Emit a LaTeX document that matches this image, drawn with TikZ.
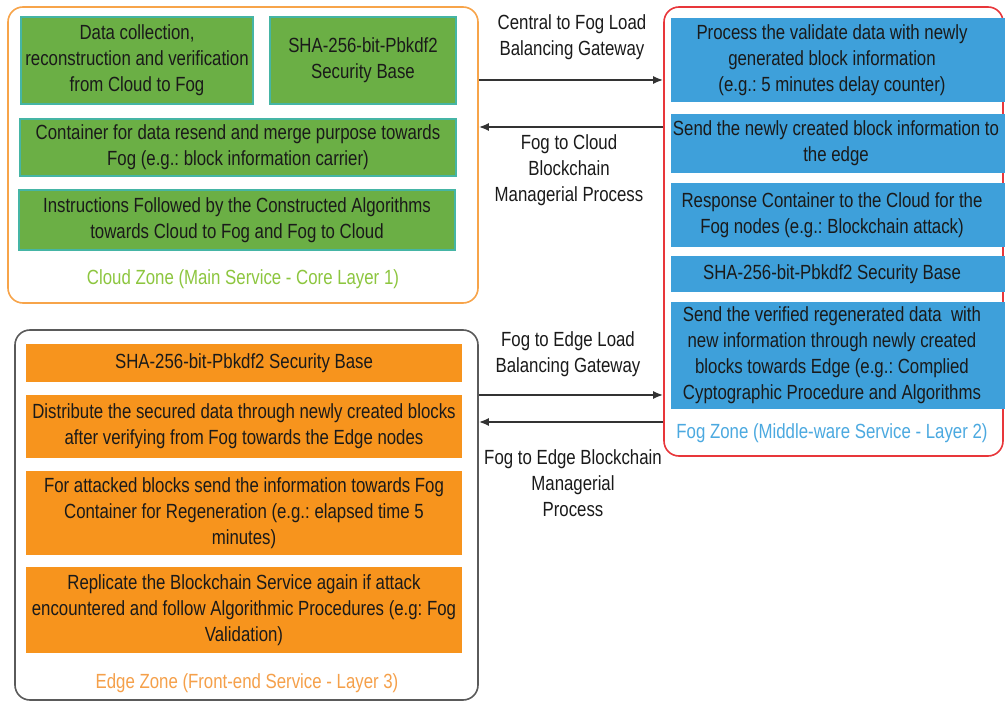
\documentclass[tikz,border=0pt]{standalone}
\usepackage{fontspec}
\setmainfont{Liberation Sans}[FakeStretch=0.82]
\usetikzlibrary{arrows.meta}
\frenchspacing
\definecolor{gfill}{HTML}{6BAF45}
\definecolor{gline}{HTML}{45B5A5}
\definecolor{bfill}{HTML}{3EA0DA}
\definecolor{ofill}{HTML}{F7941D}
\definecolor{cloudline}{HTML}{F7A44A}
\definecolor{fogline}{HTML}{E8363A}
\definecolor{edgeline}{HTML}{5A5A5A}
\definecolor{cloudtxt}{HTML}{8DC63F}
\definecolor{fogtxt}{HTML}{4BA9E0}
\definecolor{edgetxt}{HTML}{F5A04A}
\definecolor{txt}{HTML}{1A1A1A}
\definecolor{arrcol}{HTML}{333333}
\tikzset{
  every node/.style={font=\fontsize{20.5}{26}\selectfont, text=txt, align=center, inner sep=0pt},
  zone/.style={rounded corners=15pt, line width=1.6pt, fill=white},
  gbox/.style={fill=gfill, draw=gline, line width=1.2pt},
  bbox/.style={fill=bfill, draw=none},
  obox/.style={fill=ofill, draw=none},
  zlabel/.style={font=\fontsize{20.5}{26}\selectfont},
  arr/.style={draw=arrcol, line width=1.8pt, -{Latex[length=10pt,width=8pt]}},
  lbl/.style={font=\fontsize{20.5}{26}\selectfont}
}
\begin{document}
\begin{tikzpicture}[x=1pt,y=-1pt]
\useasboundingbox (0,0) rectangle (1005,703);
% zones
\node[zone, draw=cloudline, minimum width=470pt, minimum height=296pt] (cloud) at (243,155) {};
\node[zone, draw=fogline, minimum width=339pt, minimum height=449pt] (fog) at (833.5,231.5) {};
\node[zone, draw=edgeline, minimum width=463pt, minimum height=370pt] (edge) at (246.5,515) {};
% cloud boxes
\node[gbox, minimum width=232pt, minimum height=87pt] (g1) at (137,60.5) {Data collection,\\reconstruction and verification\\from Cloud to Fog};
\node[gbox, minimum width=186pt, minimum height=87pt] (g2) at (363,60.5) {SHA-256-bit-Pbkdf2\\Security Base};
\node[gbox, minimum width=436pt, minimum height=57pt] (g3) at (238,147.5) {Container for data resend and merge purpose towards\\Fog (e.g.: block information carrier)};
\node[gbox, minimum width=436pt, minimum height=60pt] (g4) at (237,220) {Instructions Followed by the Constructed Algorithms\\towards Cloud to Fog and Fog to Cloud};
\node[zlabel, text=cloudtxt] (cl) at (243,279) {Cloud Zone (Main Service - Core Layer 1)};
% fog boxes
\node[bbox, minimum width=334pt, minimum height=84pt] (b1) at (838,60) {};
\node (b1t) at (832,60) {Process the validate data with newly\\generated block information\\(e.g.: 5 minutes delay counter)};
\node[bbox, minimum width=334pt, minimum height=59pt] (b2) at (838,143.5) {};
\node (b2t) at (836,143.5) {Send the newly created block information to\\the edge};
\node[bbox, minimum width=334pt, minimum height=64pt] (b3) at (838,215) {};
\node (b3t) at (832,215) {Response Container to the Cloud for the\\Fog nodes (e.g.: Blockchain attack)};
\node[bbox, minimum width=334pt, minimum height=36pt] (b4) at (838,274) {};
\node (b4t) at (832,274) {SHA-256-bit-Pbkdf2 Security Base};
\node[bbox, minimum width=334pt, minimum height=107pt] (b5) at (838,355.5) {};
\node (b5t) at (832,355.5) {Send the verified regenerated data\ \ with\\new information through newly created\\blocks towards Edge (e.g.: Complied\\Cyptographic Procedure and Algorithms};
\node[zlabel, text=fogtxt] (fl) at (832,433) {Fog Zone (Middle-ware Service - Layer 2)};
% edge boxes
\node[obox, minimum width=436pt, minimum height=38pt] (o1) at (244,363) {SHA-256-bit-Pbkdf2 Security Base};
\node[obox, minimum width=436pt, minimum height=63pt] (o2) at (244,426.5) {Distribute the secured data through newly created blocks\\after verifying from Fog towards the Edge nodes};
\node[obox, minimum width=436pt, minimum height=84pt] (o3) at (244,513) {For attacked blocks send the information towards Fog\\Container for Regeneration (e.g.: elapsed time 5\\minutes)};
\node[obox, minimum width=436pt, minimum height=86pt] (o4) at (244,610) {Replicate the Blockchain Service again if attack\\encountered and follow Algorithmic Procedures (e.g: Fog\\Validation)};
\node[zlabel, text=edgetxt] (el) at (247,683) {Edge Zone (Front-end Service - Layer 3)};
% arrows
\coordinate (y1) at (0,80);
\coordinate (y2) at (0,127);
\coordinate (y3) at (0,395);
\coordinate (y4) at (0,422);
\draw[arr] (cloud.east |- y1) -- (fog.west |- y1);
\draw[arr] (fog.west |- y2) -- (cloud.east |- y2);
\draw[arr] (edge.east |- y3) -- (fog.west |- y3);
\draw[arr] (fog.west |- y4) -- (edge.east |- y4);
\node[lbl] (l1) at (572,37) {Central to Fog Load\\Balancing Gateway};
\node[lbl] (l2) at (569,170) {Fog to Cloud\\Blockchain\\Managerial Process};
\node[lbl] (l3) at (568,354) {Fog to Edge Load\\Balancing Gateway};
\node[lbl] (l4) at (573,483) {Fog to Edge Blockchain\\Managerial\\Process};
\end{tikzpicture}
\end{document}
